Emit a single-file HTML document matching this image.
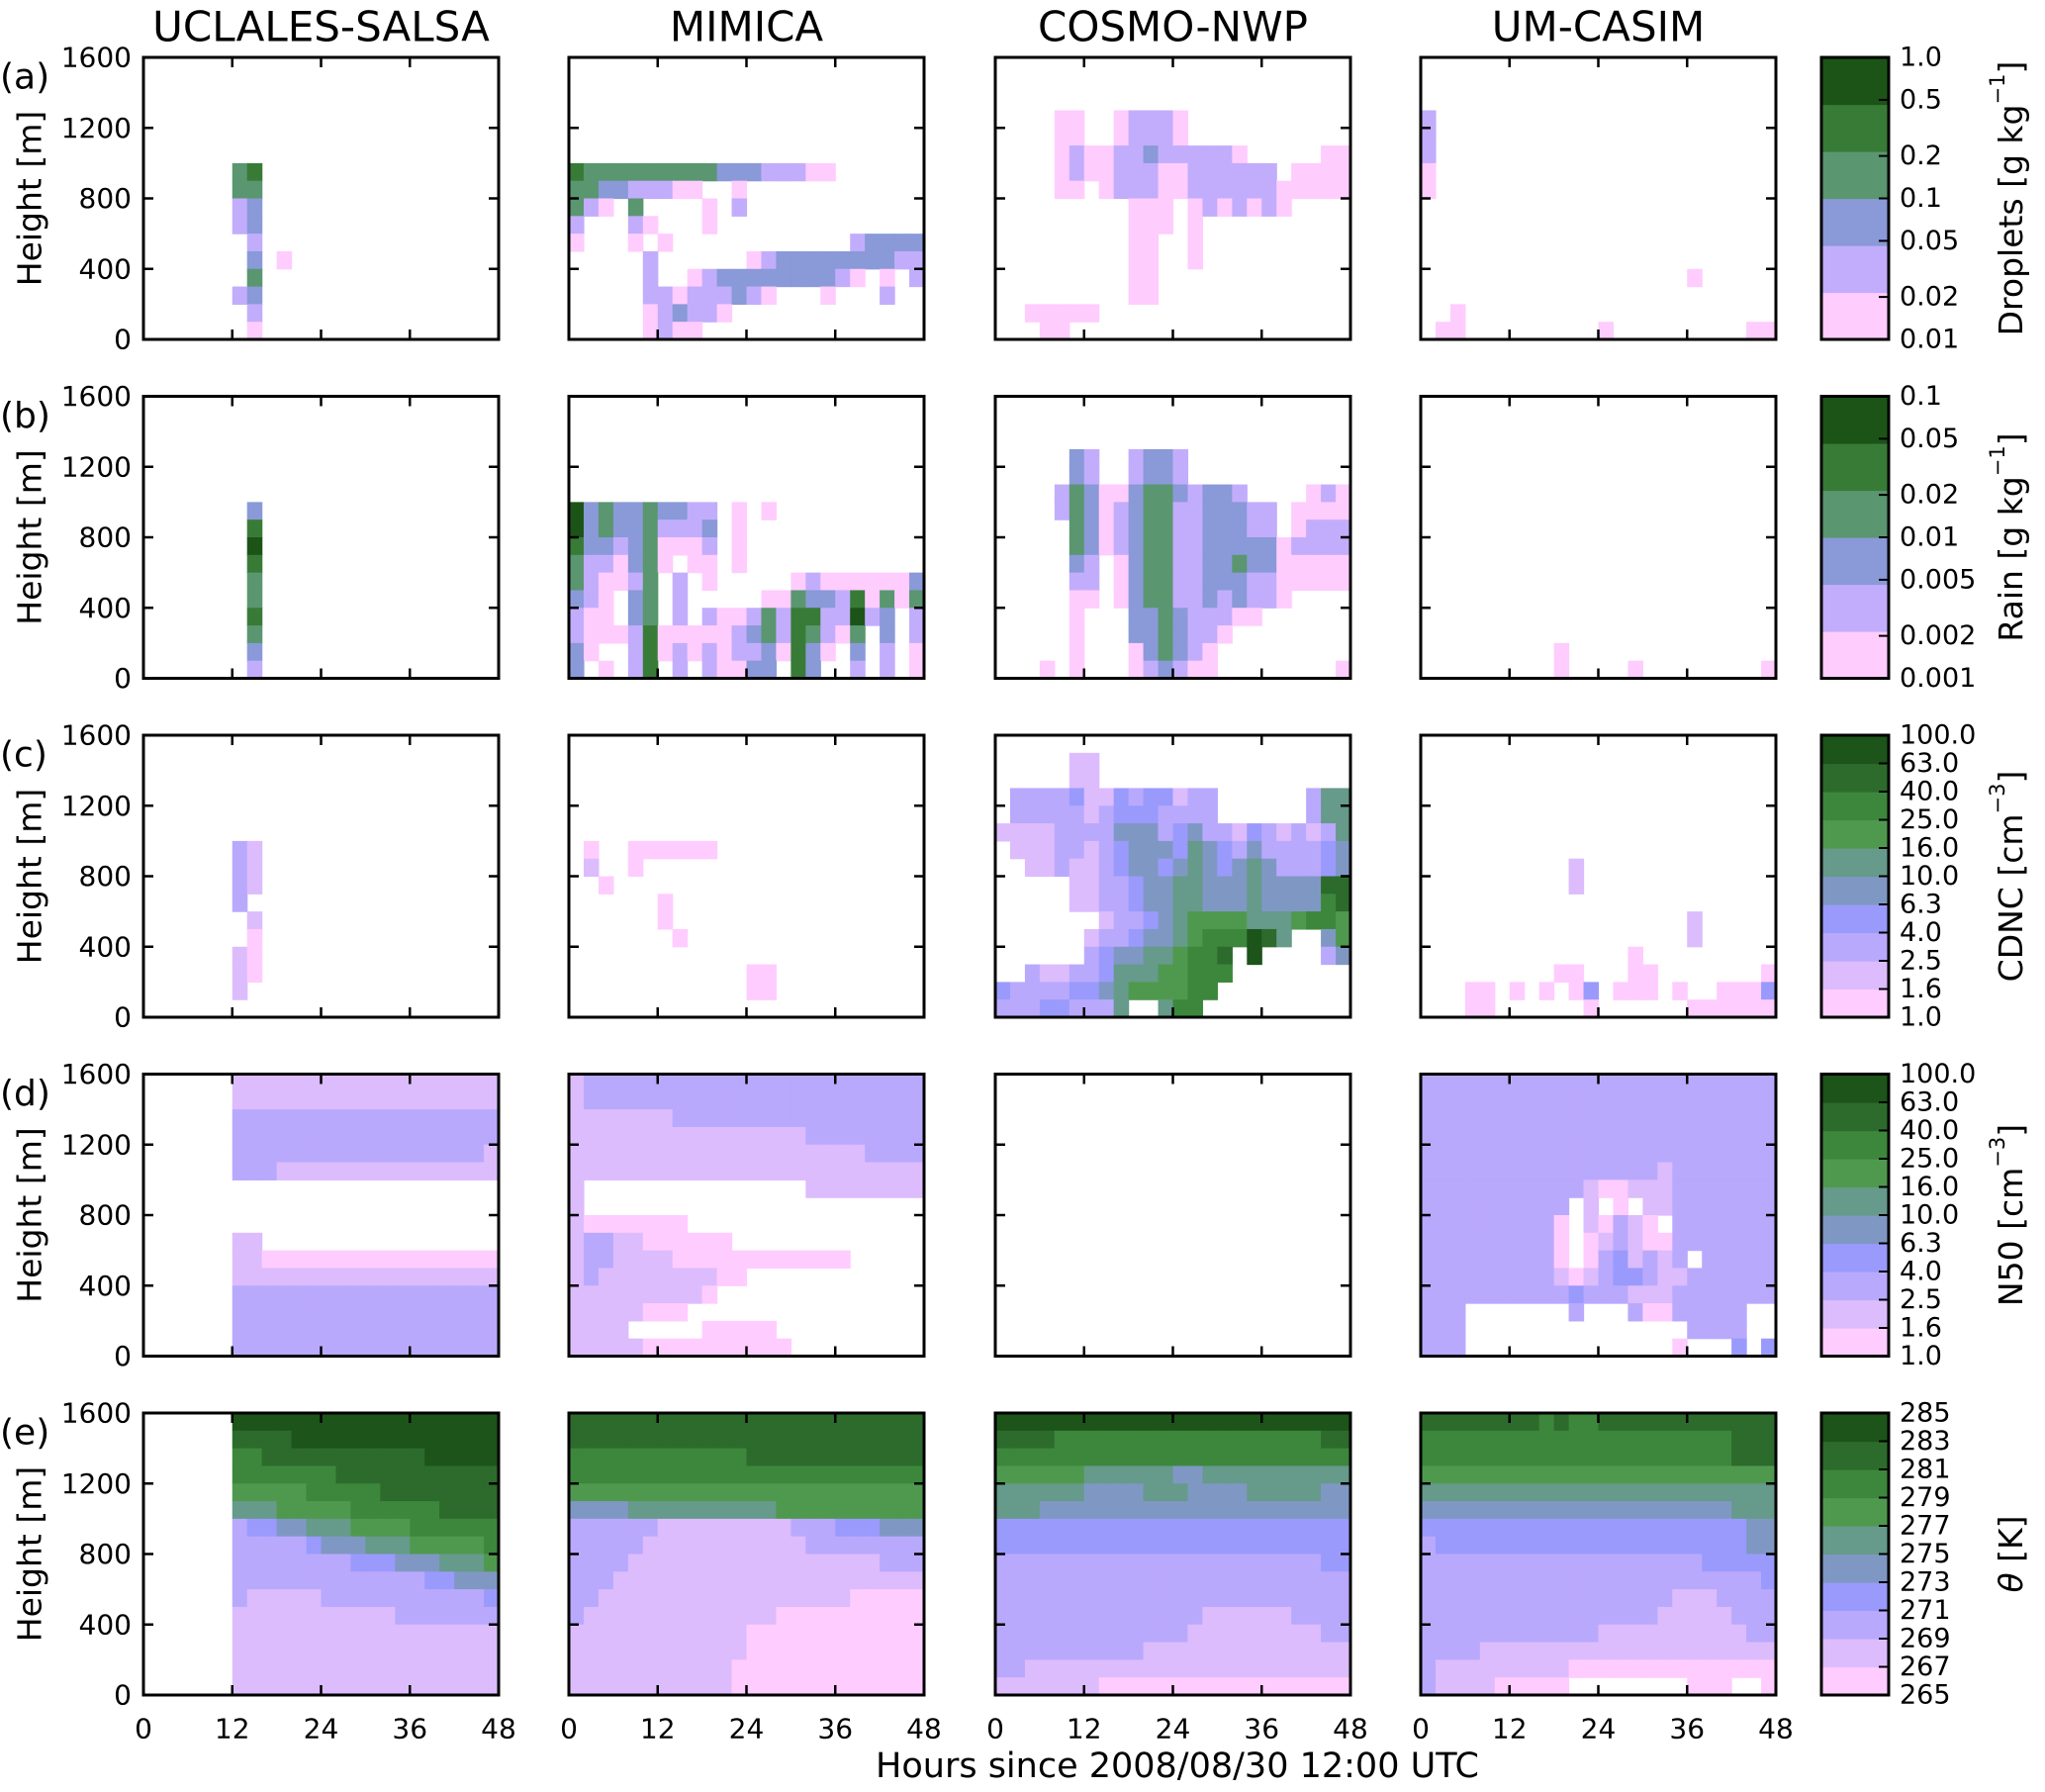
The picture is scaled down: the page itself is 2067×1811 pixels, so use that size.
<!DOCTYPE html>
<html><head><meta charset="utf-8">
<style>
html,body{margin:0;padding:0;background:#fff;}
svg{display:block;font-family:"DejaVu Sans","Liberation Sans",sans-serif;}
</style></head>
<body>
<svg id="fig" width="2067" height="1811" viewBox="0 0 2067 1811" xmlns="http://www.w3.org/2000/svg"></svg>
<script>
// ---- axis data ----
const xTicks = [0, 12, 24, 36, 48];
const yTicks = [0, 400, 800, 1200, 1600];
const modelNames = ["UCLALES-SALSA", "MIMICA", "COSMO-NWP", "UM-CASIM"];
const rowLetters = ["(a)", "(b)", "(c)", "(d)", "(e)"];
const cbarTitles = ["Droplets [g kg", "Rain [g kg", "CDNC [cm", "N50 [cm", "θ [K]"];
const cbarSup = ["−1", "−1", "−3", "−3", ""];
const labelsA = ["0.01", "0.02", "0.05", "0.1", "0.2", "0.5", "1.0"];
const valuesA = [0.01, 0.02, 0.05, 0.1, 0.2, 0.5, 1.0];
const labelsB = ["0.001", "0.002", "0.005", "0.01", "0.02", "0.05", "0.1"];
const valuesB = [0.001, 0.002, 0.005, 0.01, 0.02, 0.05, 0.1];
const labelsC = ["1.0", "1.6", "2.5", "4.0", "6.3", "10.0", "16.0", "25.0", "40.0", "63.0", "100.0"];
const labelsE = ["265", "267", "269", "271", "273", "275", "277", "279", "281", "283", "285"];
const colors6 = ["#ffccfe", "#c2adfc", "#8a99d8", "#5a9670", "#387b37", "#1c5418"];
const colors10 = ["#ffccff", "#dcbcfd", "#b9a9fd", "#9a9afd", "#7f98c3", "#669a8a", "#4f994f", "#3c873c", "#2c6b2c", "#1c541a"];

// ---- heatmap grids: 16 rows (1600 m top -> 0 m), 24 columns (2 h each); '.' = empty, 1-9,a = level ----
const gridA1 = ["....","....","....","....","....","....",
"...... 45","...... 44","...... 23","...... 23","....... 2","....... 3.1","....... 4","...... 23","....... 2","....... 1"];
const gridA2 = ["","","","","","",
"5444 4444 4433 3222 11.. ....","4433 2221 1..1 .... .... ....","421. 4... .1.2 .... .... ....","2... 21.. .1.. .... .... ....",
"1... 1.1. .... .... ...2 3333",".... .2.. .... 1233 3333 3322",".... .2.. 1233 3333 3321 .1.2",".... .221 2223 21.. .1.. .2..",
".... .123 221. .... .... ....",".... .121 1... .... .... ...."];
const gridA3 = ["","","",".... 11.. 1222 1... .... ....",".... 11.. 1222 1... .... ....",".... 1211 2232 2222 1... ..11",
".... 1211 2221 1222 222. 1111",".... 11.1 2221 1222 2221 1111",".... .... .111 .121 2121 ....",".... .... .111 .1.. .... ....",
".... .... .11. .1.. .... ....",".... .... .11. .1.. .... ....",".... .... .11. .... .... ....",".... .... .11. .... .... ....",
"..11 111. .... .... .... ....","...1 1... .... .... .... ...."];
const gridA4 = ["","","","2","2","2","1","1","","","","",".... .... .... .... ..1. ....",".... .... .... .... .... ....",
"..1. .... .... .... .... ....",".11. .... .... 1... .... ..11"];
const gridB1 = ["","","","","","","....... 3","....... 5","....... 6","....... 5","....... 4","....... 4","....... 5","....... 4","....... 3","....... 2"];
const gridB2 = ["","","","","","",
"6343 3433 22.1 .1.. .... ....","6343 3422 23.1 .... .... ....","5332 3411 12.1 .... .... ....","4221 341. 11.1 .... .... ....",
"4211 24.2 .1.. ...1 2111 1113","321. 34.2 .... .114 3325 1414","211. 34.2 .211 2425 5226 23.2","2111 2511 1112 3425 4214 .3.2",
"31.. 2512 1212 2315 31.3 .2.1","3.1. 25.2 .211 33.5 3..2 .2.1"];
const gridB3 = ["","","",".... .32. .233 2... .... ....",".... .32. .233 2... .... ....",".... 2431 1344 3233 2... .121",
".... 2431 2344 2233 322. 1111",".... .431 2344 2233 322. 1222",".... .431 2344 2233 3331 2222",".... .32. 1344 2233 4331 1111",
".... .22. 1344 2233 3221 1111",".... .11. 1344 2232 3221 ....",".... .1.. .334 3222 11.. ....",".... .1.. .334 3221 .... ....",
".... .1.. .134 321. .... ....","...1 .1.. .123 211. .... ...1"];
const gridB4 = ["","","","","","","","","","","","","","",".... .... .1.. .... .... ....",".... .... .1.. ..1. .... ...1"];
const gridC1 = ["","","","","","","...... 32","...... 32","...... 32","...... 3","...... .2","...... .1","...... 21","...... 21","...... 2",""];
const gridC2 = ["","","","","","",".1.. 1111 11.. .... .... ....",".2.. 1... .... .... .... ....","..1. .... .... .... .... ....","....  ..1. .... .... .... ....",
"..... .1.. .... .... .... ....",".... ...1 .... .... .... ....",".... .... .... .... .... ....",".... .... .... 11.. .... ....",".... .... .... 11.. .... ....",""];
const gridC3 = ["",".... .22. .... .... .... ....",".... .22. .... .... .... ....",".333 3422 4344 233. .... .366",
".333 3323 4443 333. .... .366","2222 3333 5553 4533 2432 3236",".222 3323 4555 4654 3533 3345","..22 3223 4554 5654 5653 3345",
".... .223 3455 6655 5655 5599",".... .223 3455 6655 5655 5589",".... ...2 3345 6777 7666 7887",".... ..23 3455 6788 8a96 ..57",
".... ..34 5566 7889 .a.. ..35","..32 2334 6667 7888 .... ....","4333 3445 6777 788. .... ....","3334 4333 6..6 88.. .... ...."];
const gridC4 = ["","","","","","","",".... .... ..2. .... .... ....",".... .... ..2. .... .... ....","",
".... .... .... .... ..2. ....",".... .... .... .... ..2. ....",".... .... .... ..1. .... ....",".... .... .11. ..11 .... ...1",
"...1 1.1. 1.14 .111 .1.. 1114","...1 1... ...1 .... ..11 1111"];
const gridD1 = ["...... 222222222222222222","...... 222222222222222222","...... 333333333333333333","...... 333333333333333333",
"...... 333333333333333332","...... 333222222222222222","","","","...... 22",
"...... 221111111111111111","...... 222222222222222222","...... 333333333333333333","...... 333333333333333333",
"...... 333333333333333333","...... 333333333333333333"];
const gridD2 = ["2333 3333 3333 3333 3333 3333","2333 3333 3333 3333 3333 3333","2222 2223 3333 3333 3333 3333","2222 2222 2222 2222 3333 3333",
"2222 2222 2222 2222 2222 3333","2222 2222 2222 2222 2222 2222","2... .... .... .... 2222 2222","2... .... .... .... .... ....",
"2111 1111 .... .... .... ....","2332 2111 111. .... .... ....","2332 2221 1111 1111 111. ....","2322 2222 2211 .... .... ....",
"2222 2222 21.. .... .... ....","2222 2111 .... .... .... ....","2222 .... .111 11.. .... ....","2222 2111 1111 111. .... ...."];
const gridD3 = [];
const gridD4 = ["3333 3333 3333 3333 3333 3333","3333 3333 3333 3333 3333 3333","3333 3333 3333 3333 3333 3333","3333 3333 3333 3333 3333 3333",
"3333 3333 3333 3333 3333 3333","3333 3333 3333 3333 2333 3333","3333 3333 3332 1122 2333 3333","3333 3333 33.2 .1.2 2333 3333",
"3333 3333 31.2 1321 .333 3333","3333 3333 31.1 2321 1333 3333","3333 3333 31.1 3423 23.3 3333","3333 3333 3212 3443 2233 3333",
"3333 3333 3343 3322 2333 3333","333. .... ..3. ..31 1333 33..","333. .... .... .... ..33 33..","333. .... .... .... .1.. .4.4"];
const gridE1 = ["...... aaaaaaaaaaaaaaaaaa","...... 9999aaaaaaaaaaaaaa","...... 8899999999999aaaaa","...... 888888899999999999",
"...... 777778888899999999","...... 666777778888889999","...... 344556667777888888","...... 333334555666777778",
"...... 333333334445556667","...... 333333333333344555","...... 322222333333333334","...... 222222222223333333",
"...... 222222222222222222","...... 222222222222222222","...... 222222222222222222","...... 222222222222222222"];
const gridE2 = ["999999999999999999999999","999999999999999999999999","888888888888999999999999","888888888888888888888888",
"777777777777777777777777","555566666666667777777777","333333222222222333444555","333332222222222233333333",
"333322222222222222222333","333222222222222222222222","332222222222222222211111","322222222222221111111111",
"222222222222111111111111","222222222222111111111111","222222222221111111111111","222222222221111111111111"];
const gridE3 = ["aaaaaaaaaaaaaaaaaaaaaaaa","999988888888888888888899","888888888888888888888888","777777666666556666666666",
"666666555566655556666655","666555555555555555555555","444444444444444444444444","444444444444444444444444",
"333333333333333333333344","333333333333333333333333","333333333333333333333333","333333333333332222223333",
"333333333333322222222233","333333333322222222222222","332222222222222222222222","2222222111111111111111111"];
const gridE4 = ["999999998988999999999999","888888888888888888888999","888888888888888888888999","777777777777777777777777",
"666666666666666666666666","555555555555555555555666","444444444444444444444455","344444444444444444444455",
"333333333333333333344444","333333333333333333333334","333333333333333332223333","333333333333333322222333",
"333333333333222222222233","333322222222222222222222","322222222211111111111111","3222211111........111..1"];

const grids = [[gridA1,gridA2,gridA3,gridA4],[gridB1,gridB2,gridB3,gridB4],[gridC1,gridC2,gridC3,gridC4],[gridD1,gridD2,gridD3,gridD4],[gridE1,gridE2,gridE3,gridE4]];

// ---- layout ----
const colLeft = [145, 575, 1006, 1436];
const rowTop = [58, 400.5, 743, 1085.5, 1428];
const PW = 359, PH = 285, CBX = 1841, CBW = 68;
const NS = "http://www.w3.org/2000/svg";
const svg = document.getElementById("fig");
function el(tag, attrs, parent) {
  const e = document.createElementNS(NS, tag);
  for (const k in attrs) e.setAttribute(k, attrs[k]);
  (parent || svg).appendChild(e);
  return e;
}
function xs(c, h) { return colLeft[c] + h / 48 * PW; }
function ys(r, m) { return rowTop[r] + PH - m / 1600 * PH; }

for (let r = 0; r < 5; r++) {
  const pal = r < 2 ? colors6 : colors10;
  for (let c = 0; c < 4; c++) {
    const g = el("g", {});
    
    
    const grid = grids[r][c];
    for (let i = 0; i < grid.length; i++) {
      const row = grid[i].replace(/ /g, "");
      for (let j = 0; j < Math.min(24, row.length); j++) {
        const ch = row[j];
        if (ch === ".") continue;
        const lev = parseInt(ch, 36);
        const x0 = xs(c, j * 2), x1 = xs(c, j * 2 + 2);
        const y0 = ys(r, 1600 - i * 100), y1 = ys(r, 1600 - (i + 1) * 100);
        const rc = el("rect", {x: x0, y: y0, width: x1 - x0 + 0.6, height: y1 - y0 + 0.6, fill: pal[lev - 1]}, g);
        
        
      }
    }
    for (const t of xTicks.slice(1, -1)) {
      el("line", {x1: xs(c, t), x2: xs(c, t), y1: rowTop[r], y2: rowTop[r] + 10, stroke: "#000", "stroke-width": 2.5}, g);
      el("line", {x1: xs(c, t), x2: xs(c, t), y1: rowTop[r] + PH, y2: rowTop[r] + PH - 10, stroke: "#000", "stroke-width": 2.5}, g);
    }
    for (const t of yTicks.slice(1, -1)) {
      el("line", {x1: colLeft[c], x2: colLeft[c] + 10, y1: ys(r, t), y2: ys(r, t), stroke: "#000", "stroke-width": 2.5}, g);
      el("line", {x1: colLeft[c] + PW, x2: colLeft[c] + PW - 10, y1: ys(r, t), y2: ys(r, t), stroke: "#000", "stroke-width": 2.5}, g);
    }
    const fr = el("rect", {x: colLeft[c], y: rowTop[r], width: PW, height: PH, fill: "none", stroke: "#000", "stroke-width": 3}, g);
    
    
    if (r === 4) {
      for (const t of xTicks) {
        const tx = el("text", {x: xs(c, t), y: 1747, "font-size": 28, "text-anchor": "middle", "dominant-baseline": "central"});
        tx.textContent = t;
        
        
      }
    }
  }
  for (const t of yTicks) {
    const ty = el("text", {x: 133, y: ys(r, t), "font-size": 28, "text-anchor": "end", "dominant-baseline": "central"});
    ty.textContent = t;
    
    
  }
  const lt = el("text", {x: 0, y: rowTop[r] + 20, "font-size": 36, "dominant-baseline": "central"});
  lt.textContent = rowLetters[r];
  
  
  const yl = el("text", {x: 30, y: rowTop[r] + PH / 2, "font-size": 33, "text-anchor": "middle", "dominant-baseline": "central", transform: "rotate(-90 30 " + (rowTop[r] + PH / 2) + ")"});
  yl.textContent = "Height [m]";
  
  

  const cb = el("g", {});
  
  
  const n = pal.length;
  for (let k = 0; k < n; k++) {
    const y0 = rowTop[r] + PH - (k + 1) * PH / n;
    const b = el("rect", {x: CBX, y: y0, width: CBW, height: PH / n + 0.6, fill: pal[k]}, cb);
    
    
  }
  let labs, pos;
  if (r === 0) { labs = labelsA; pos = valuesA.map(v => Math.log(v / valuesA[0]) / Math.log(valuesA[6] / valuesA[0])); }
  else if (r === 1) { labs = labelsB; pos = valuesB.map(v => Math.log(v / valuesB[0]) / Math.log(valuesB[6] / valuesB[0])); }
  else if (r === 4) { labs = labelsE; pos = labs.map((v, k) => k / (labs.length - 1)); }
  else { labs = labelsC; pos = labs.map((v, k) => k / (labs.length - 1)); }
  labs.forEach((lab, k) => {
    const yy = rowTop[r] + PH - pos[k] * PH;
    if (k > 0 && k < labs.length - 1) el("line", {x1: CBX + CBW, x2: CBX + CBW - 10, y1: yy, y2: yy, stroke: "#000", "stroke-width": 2}, cb);
    const t = el("text", {x: 1920, y: yy, "font-size": 27, "dominant-baseline": "central"}, cb);
    t.textContent = lab;
    
    
  });
  el("rect", {x: CBX, y: rowTop[r], width: CBW, height: PH, fill: "none", stroke: "#000", "stroke-width": 3}, cb);
  const cy = rowTop[r] + PH / 2;
  const ct = el("text", {x: 2032, y: cy, "font-size": 33, "text-anchor": "middle", "dominant-baseline": "central", transform: "rotate(-90 2032 " + cy + ")"}, cb);
  if (r === 4) {
    const ts = el("tspan", {"font-style": "italic"}, ct); ts.textContent = "θ";
    const ts2 = el("tspan", {}, ct); ts2.textContent = " [K]";
  } else {
    const a = el("tspan", {}, ct); a.textContent = cbarTitles[r];
    const s = el("tspan", {"font-size": 21, dy: -13}, ct); s.textContent = cbarSup[r];
    const e2 = el("tspan", {dy: 13}, ct); e2.textContent = "]";
  }
  
  
}
for (let c = 0; c < 4; c++) {
  const t = el("text", {x: colLeft[c] + PW / 2, y: 27, "font-size": 42, "text-anchor": "middle", "dominant-baseline": "central"});
  t.textContent = modelNames[c];
  
  
}
const xl = el("text", {x: 1190, y: 1785, "font-size": 35, "text-anchor": "middle", "dominant-baseline": "central"});
xl.textContent = "Hours since 2008/08/30 12:00 UTC";


</script>
</body></html>
